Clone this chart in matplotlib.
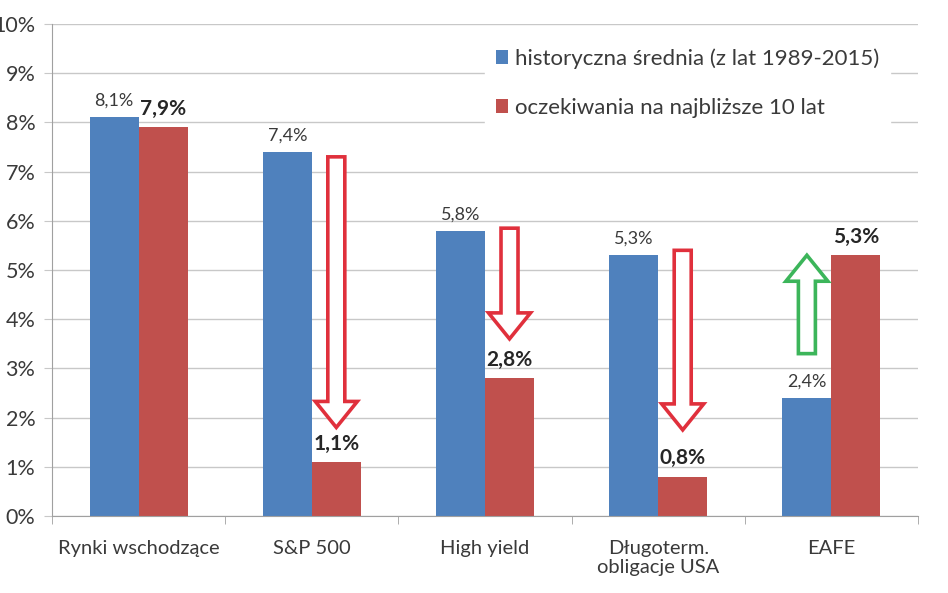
import numpy as np
import matplotlib.pyplot as plt
from matplotlib.patches import FancyArrow
from matplotlib.transforms import Affine2D

plt.rcParams['font.family'] = ['Lato', 'DejaVu Sans']

categories = ['Rynki wschodzące', 'S&P 500', 'High yield', 'Długoterm.\nobligacje USA', 'EAFE']
historical = [8.1, 7.4, 5.8, 5.3, 2.4]
expected = [7.9, 1.1, 2.8, 0.8, 5.3]
hist_labels = ['8,1%', '7,4%', '5,8%', '5,3%', '2,4%']
exp_labels = ['7,9%', '1,1%', '2,8%', '0,8%', '5,3%']
series_names = ['historyczna średnia (z lat 1989-2015)', 'oczekiwania na najbliższe 10 lat']

# arrows: (category index, bar side, start value, end value, colour)
arrows = [
    (1, 'exp', 7.3, 1.8, '#e0303c'),
    (2, 'exp', 5.85, 3.6, '#e0303c'),
    (3, 'exp', 5.4, 1.75, '#e0303c'),
    (4, 'hist', 3.3, 5.3, '#3cb55a'),
]

blue = '#4f81bd'
red = '#c0504d'
txt = '#3a3a3a'
w = 0.283

fig = plt.figure(figsize=(9.48, 5.93), dpi=100)
ax = fig.add_axes([52/948, 1-516/593, 866/948, 492/593])

x = np.arange(len(categories))
ax.bar(x - w/2, historical, w, color=blue, label=series_names[0], zorder=2)
ax.bar(x + w/2, expected, w, color=red, label=series_names[1], zorder=2)

for i in range(len(categories)):
    ax.text(x[i] - w/2, historical[i] + 0.17, hist_labels[i], ha='center', va='bottom',
            fontsize=13, color=txt, zorder=4)
    ax.text(x[i] + w/2, expected[i] + 0.17, exp_labels[i], ha='center', va='bottom',
            fontsize=15, fontweight='bold', color='#262626', zorder=4)

# hollow arrows drawn in a pixel-scaled frame so the shape keeps its proportions
px_x = len(categories) / 866.0
px_y = 10 / 492.0
to_data = Affine2D().scale(px_x, px_y) + ax.transData
for idx, side, y0, y1, col in arrows:
    xc = x[idx] + (w/2 if side == 'exp' else -w/2)
    ar = FancyArrow(xc / px_x, y0 / px_y, 0, (y1 - y0) / px_y, width=17,
                    head_width=42, head_length=26, length_includes_head=True,
                    facecolor='white', edgecolor=col, linewidth=2.6, zorder=5,
                    transform=to_data)
    ax.add_patch(ar)

ax.set_xlim(-0.5, len(categories) - 0.5)
ax.set_ylim(0, 10)
ax.set_yticks(np.arange(0, 11, 1))
ax.set_yticklabels([f'{v}%' for v in range(11)], fontsize=15.5, color=txt)
ax.yaxis.grid(True, color='#c8c8c8', linewidth=1, zorder=0)
ax.set_axisbelow(True)

ax.set_xticks(x)
ax.set_xticklabels(categories, fontsize=14.5, color=txt, linespacing=1.2)
ax.set_xticks(np.arange(-0.5, len(categories)), minor=True)
ax.tick_params(axis='x', which='major', length=0, pad=17)
ax.tick_params(axis='x', which='minor', length=6, color='#a0a0a0')
ax.tick_params(axis='y', length=6, color='#c8c8c8', pad=6)

for s in ['top', 'right']:
    ax.spines[s].set_visible(False)
ax.spines['left'].set_color('#a0a0a0')
ax.spines['bottom'].set_color('#a0a0a0')

leg = fig.legend(loc='upper left', bbox_to_anchor=(474/948, 1-26/593), fontsize=16, frameon=True,
                 handlelength=0.55, handleheight=0.55, handletextpad=0.3, labelspacing=1.3,
                 borderpad=0.5, fancybox=False, labelcolor=txt)
leg.get_frame().set_facecolor('white')
leg.get_frame().set_edgecolor('white')
leg.get_frame().set_alpha(1)
leg.set_zorder(6)

fig.savefig('out.png', dpi=100)
